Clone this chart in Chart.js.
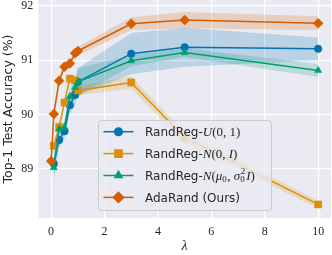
<!DOCTYPE html>
<html>
<head>
<meta charset="utf-8">
<script src="https://cdn.jsdelivr.net/npm/chart.js@4.4.1/dist/chart.umd.min.js"></script>
<style>
  html, body { margin: 0; padding: 0; background: #ffffff; }
  #wrap { width: 332px; height: 255px; position: relative; }
</style>
</head>
<body>
<div id="wrap"><canvas id="chart" width="332" height="255"></canvas></div>
<script>
// lambda values on the x axis
const lambdas = [0, 0.1, 0.3, 0.5, 0.7, 0.9, 1, 3, 5, 10];

// mean top-1 accuracy and spread (null = not run)
const uniformAcc = [null, 89.09, 89.53, 89.69, 90.17, 90.36, 90.60, 91.12, 91.24, 91.21];
const uniformStd = [null, 0.30, 0.15, 0.12, 0.15, 0.20, 0.25, 0.38, 0.36, 0.21];
const normalAcc  = [null, 89.42, 89.77, 90.22, 90.66, 90.63, 90.44, 90.59, 89.57, 88.34];
const normalStd  = [null, 0.05, 0.05, 0.06, 0.07, 0.08, 0.09, 0.11, 0.10, 0.07];
const fittedAcc  = [null, 89.02, 89.73, 89.76, 90.33, 90.50, 90.60, 90.99, 91.14, 90.81];
const fittedStd  = [null, 0.20, 0.10, 0.10, 0.15, 0.20, 0.25, 0.10, 0.08, 0.12];
const adaAcc     = [89.14, 90.01, 90.62, 90.88, 90.94, 91.13, 91.17, 91.67, 91.74, 91.68];
const adaStd     = [0.04, 0.05, 0.05, 0.05, 0.05, 0.07, 0.08, 0.12, 0.15, 0.13];

const xTicks = [0, 2, 4, 6, 8, 10];
const yTicks = [89, 90, 91, 92];

const SANS = "'DejaVu Sans', sans-serif";
const SERIF = "'Liberation Serif', serif";
const TEXT = '#262626';

const series = [
    { acc: uniformAcc, std: uniformStd, color: '#0173b2', style: 'circle', radius: 3.8, order: 3 },
    { acc: normalAcc, std: normalStd, color: '#de8f05', style: 'rect', radius: 5, order: 2 },
    { acc: fittedAcc, std: fittedStd, color: '#029e73', style: 'triangle', radius: 4.2, order: 1 },
    { acc: adaAcc, std: adaStd, color: '#d55e00', style: 'rectRot', radius: 5, order: 0 }
];

function points(acc, std, k) {
    const out = [];
    lambdas.forEach((x, i) => {
        if (acc[i] !== null) out.push({ x: x, y: acc[i] + k * std[i] });
    });
    return out;
}

function alpha(hex, a) {
    const n = parseInt(hex.slice(1), 16);
    return `rgba(${(n >> 16) & 255}, ${(n >> 8) & 255}, ${n & 255}, ${a})`;
}

const datasets = [];
// shaded bands first
series.forEach(s => {
    datasets.push({
        data: points(s.acc, s.std, -1), borderWidth: 0, pointRadius: 0,
        showLine: true, fill: false, order: 10, borderColor: 'transparent'
    });
    datasets.push({
        data: points(s.acc, s.std, 1), borderWidth: 0, pointRadius: 0,
        showLine: true, fill: '-1', order: 10, borderColor: 'transparent',
        backgroundColor: alpha(s.color, 0.2)
    });
});
// mean lines with markers
series.forEach(s => {
    datasets.push({
        data: points(s.acc, s.std, 0), showLine: true, fill: false,
        borderColor: s.color, backgroundColor: s.color, borderWidth: 1.5,
        pointStyle: s.style, pointRadius: s.radius, pointBackgroundColor: s.color,
        pointBorderColor: s.color, pointBorderWidth: 0.5, order: s.order
    });
});

// plot background
const bgPlugin = {
    id: 'bg',
    beforeDraw(chart) {
        const { ctx, chartArea: a } = chart;
        ctx.save();
        ctx.fillStyle = '#eaeaf2';
        ctx.fillRect(a.left, a.top, a.right - a.left, a.bottom - a.top);
        ctx.restore();
    }
};

// legend with mixed text / math fonts
const legendRows = [
    [['RandReg-', 'sans'], ['U', 'it'], ['(0, 1)', 'rm']],
    [['RandReg-', 'sans'], ['N', 'it'], ['(0, ', 'rm'], ['I', 'it'], [')', 'rm']],
    [['RandReg-', 'sans'], ['N', 'it'], ['(', 'rm'], ['μ', 'it'], ['0', 'sub'], [', ', 'rm'],
     ['σ', 'it'], ['2|0', 'subsup'], ['I', 'it'], [')', 'rm']],
    [['AdaRand (Ours)', 'sans']]
];

const legendPlugin = {
    id: 'mathLegend',
    afterDraw(chart) {
        const ctx = chart.ctx;
        const bx = 98.5, by = 120.5, bw = 173, bh = 90;
        ctx.save();
        ctx.beginPath();
        ctx.roundRect(bx, by, bw, bh, 3);
        ctx.fillStyle = 'rgba(234, 234, 242, 0.8)';
        ctx.fill();
        ctx.strokeStyle = '#cccccc';
        ctx.lineWidth = 1;
        ctx.stroke();

        const fonts = {
            sans: `12px ${SANS}`, rm: `13px ${SERIF}`, it: `italic 13px ${SERIF}`,
            sub: `9px ${SERIF}`, subsup: `9px ${SERIF}`
        };
        legendRows.forEach((row, i) => {
            const s = series[i];
            const y = 131.7 + i * 21.9;
            ctx.strokeStyle = s.color;
            ctx.lineWidth = 1.5;
            ctx.beginPath();
            ctx.moveTo(103.5, y);
            ctx.lineTo(133.5, y);
            ctx.stroke();
            ctx.fillStyle = s.color;
            Chart.helpers.drawPoint(ctx, { pointStyle: s.style, radius: s.radius, borderWidth: 0.5 }, 118.5, y);
            ctx.fill();

            let x = 145;
            ctx.fillStyle = TEXT;
            ctx.textBaseline = 'middle';
            ctx.textAlign = 'left';
            row.forEach(([t, kind]) => {
                ctx.font = fonts[kind];
                if (kind === 'sub') {
                    ctx.fillText(t, x, y + 4.5);
                    x += ctx.measureText(t).width + 0.5;
                } else if (kind === 'subsup') {
                    const [sup, sub] = t.split('|');
                    ctx.fillText(sup, x + 0.5, y - 4);
                    ctx.fillText(sub, x, y + 4.5);
                    x += Math.max(ctx.measureText(sup).width, ctx.measureText(sub).width) + 1.5;
                } else {
                    ctx.fillText(t, x, y + 1);
                    x += ctx.measureText(t).width;
                }
            });
        });
        ctx.restore();
    }
};

new Chart(document.getElementById('chart'), {
    type: 'scatter',
    data: { datasets: datasets },
    plugins: [bgPlugin, legendPlugin],
    options: {
        responsive: false,
        animation: false,
        layout: { autoPadding: false, padding: { top: 0, right: 1, left: 0, bottom: 0 } },
        elements: { line: { tension: 0 } },
        plugins: {
            legend: { display: false },
            tooltip: { enabled: false },
            filler: { drawTime: 'beforeDatasetsDraw' }
        },
        scales: {
            x: {
                type: 'linear', min: -0.48, max: 10.48,
                afterBuildTicks: s => { s.ticks = xTicks.map(v => ({ value: v })); },
                afterFit: s => { s.height = 37; s.paddingLeft = 0; s.paddingRight = 0; },
                grid: { color: '#ffffff', lineWidth: 1.2, drawTicks: false },
                border: { display: false },
                ticks: { padding: 7, color: TEXT, font: { family: SERIF, size: 12 } },
                title: {
                    display: true, text: 'λ', color: TEXT,
                    font: { family: SERIF, size: 14, style: 'italic' }, padding: { top: 1, bottom: 0 }
                }
            },
            y: {
                type: 'linear', min: 88.09, max: 92.11,
                afterBuildTicks: s => { s.ticks = yTicks.map(v => ({ value: v })); },
                afterFit: s => { s.width = 38.3; s.paddingTop = 0; s.paddingBottom = 0; },
                grid: { color: '#ffffff', lineWidth: 1.2, drawTicks: false },
                border: { display: false },
                ticks: { padding: 5, color: TEXT, font: { family: SERIF, size: 12 } },
                title: {
                    display: true, text: 'Top-1 Test Accuracy (%)', color: TEXT,
                    font: { family: SANS, size: 12.5 }, padding: { top: 1, bottom: 0 }
                }
            }
        }
    }
});
</script>
</body>
</html>
